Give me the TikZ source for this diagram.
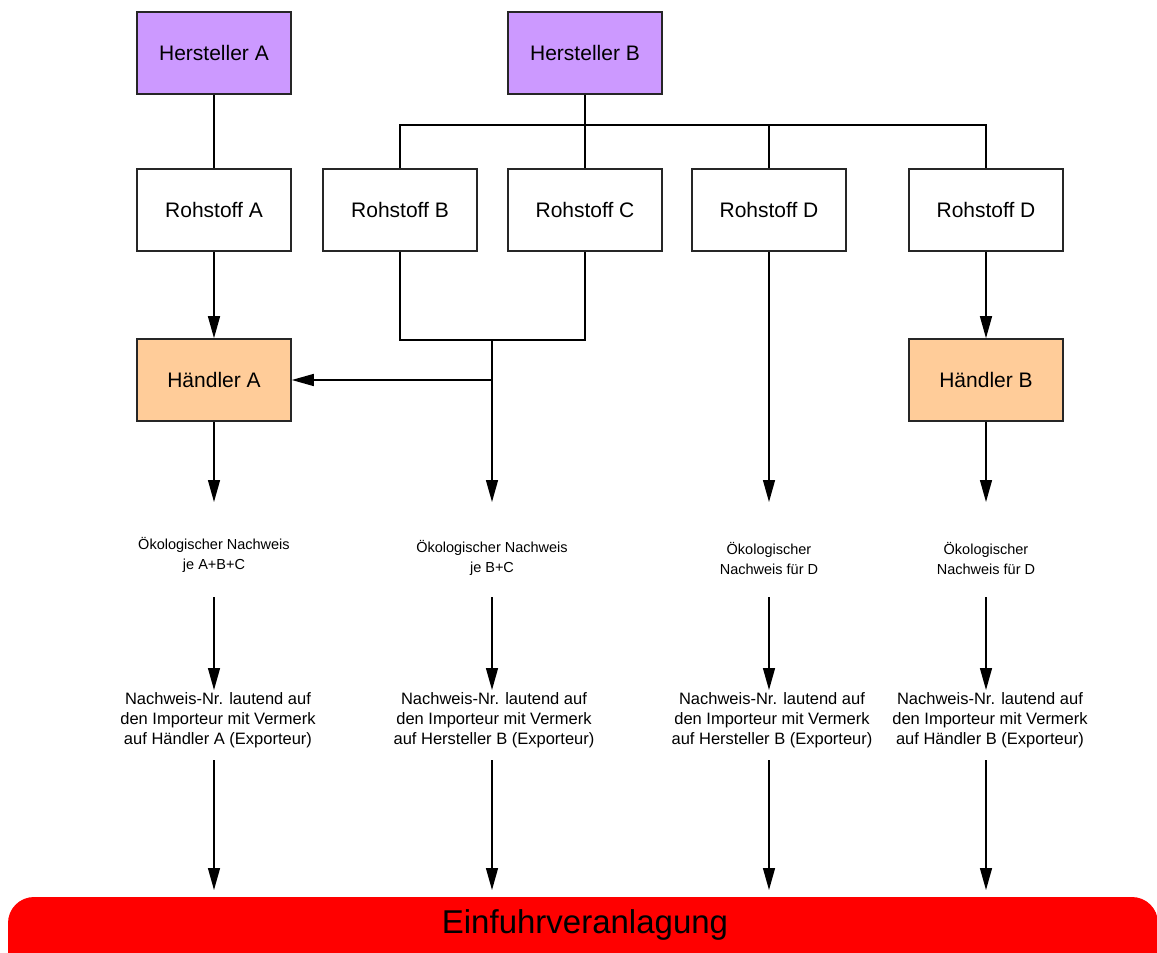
\documentclass[tikz,border=0pt]{standalone}
\usepackage{fontspec}
\setmainfont{Liberation Sans}
\usetikzlibrary{arrows.meta}
\definecolor{herst}{RGB}{204,153,255}
\definecolor{haend}{RGB}{255,204,153}
\definecolor{rotbar}{RGB}{255,0,0}
\tikzset{
  box/.style={draw=black!85, line width=1.6pt, minimum width=154pt, minimum height=82pt, inner sep=0pt, font=\fontsize{21}{24}\selectfont},
  hbox/.style={box, fill=herst},
  dbox/.style={box, fill=haend},
  rbox/.style={box, fill=white},
  small/.style={align=center, inner sep=0pt, font=\fontsize{14.5}{20}\selectfont},
  smallb/.style={align=center, inner sep=0pt, font=\fontsize{16.5}{20}\selectfont},
  conn/.style={line width=1.4pt, black},
  arr/.style={conn, -{Triangle[width=12pt,length=22pt]}},
}
\begin{document}
\begin{tikzpicture}[x=1pt,y=-1pt]
\useasboundingbox (0,0) rectangle (1157,953);
% boxes
\node[hbox] (HA) at (214,53) {Hersteller A};
\node[hbox] (HB) at (585,53) {Hersteller B};
\node[rbox] (RA) at (214,210) {Rohstoff A};
\node[rbox] (RB) at (400,210) {Rohstoff B};
\node[rbox] (RC) at (585,210) {Rohstoff C};
\node[rbox] (RD) at (769,210) {Rohstoff D};
\node[rbox] (RE) at (986,210) {Rohstoff D};
\node[dbox] (DA) at (214,380) {Händler A};
\node[dbox] (DB) at (986,380) {Händler B};
% ecological proof texts
\node[small] (O1) at (214,555) {Ökologischer Nachweis\\je A+B+C};
\node[small] (O2) at (492,558) {Ökologischer Nachweis\\je B+C};
\node[small] (O3) at (769,558) {Ökologischer\\Nachweis für D};
\node[small] (O4) at (986,558) {Ökologischer\\Nachweis für D};
% proof number texts
\node[smallb] (N1) at (218,720) {Nachweis-Nr. lautend auf\\den Importeur mit Vermerk\\auf Händler A (Exporteur)};
\node[smallb] (N2) at (494,720) {Nachweis-Nr. lautend auf\\den Importeur mit Vermerk\\auf Hersteller B (Exporteur)};
\node[smallb] (N3) at (772,720) {Nachweis-Nr. lautend auf\\den Importeur mit Vermerk\\auf Hersteller B (Exporteur)};
\node[smallb] (N4) at (990,720) {Nachweis-Nr. lautend auf\\den Importeur mit Vermerk\\auf Händler B (Exporteur)};
% bottom bar
\fill[rotbar, rounded corners=26pt] (8,897) rectangle (1158,985);
\node[font=\fontsize{33}{38}\selectfont, inner sep=0pt] (EV) at (585,925) {Einfuhrveranlagung};
% named free coordinates
\coordinate (busL) at (400,125);
\coordinate (busR1) at (769,125);
\coordinate (busR2) at (986,125);
\coordinate (joinB) at (400,340);
\coordinate (joinC) at (585,340);
\coordinate (join) at (492,340);
\coordinate (branch) at (492,380);
\foreach \i/\x in {1/214,2/492,3/769,4/986}{
  \coordinate (t\i) at (\x,502);
  \coordinate (s\i) at (\x,597);
  \coordinate (u\i) at (\x,690);
  \coordinate (v\i) at (\x,760);
  \coordinate (w\i) at (\x,890);
}
% connectors
\draw[conn] (HA) -- (RA);
\draw[conn] (HB) -- (RC);
\draw[conn] (RB.north) |- (busL) -- (busR2) -- (RE.north);
\draw[conn] (busR1) -- (RD.north);
\draw[arr] (RA) -- (DA);
\draw[arr] (RE) -- (DB);
\draw[conn] (RB.south) -- (joinB) -- (joinC) -- (RC.south);
\draw[arr] (join) -- (t2);
\draw[arr] (branch) -- (DA.east);
\draw[arr] (DA) -- (t1);
\draw[arr] (RD) -- (t3);
\draw[arr] (DB) -- (t4);
\foreach \i in {1,2,3,4}{
  \draw[arr] (s\i) -- (u\i);
  \draw[arr] (v\i) -- (w\i);
}
\end{tikzpicture}
\end{document}
